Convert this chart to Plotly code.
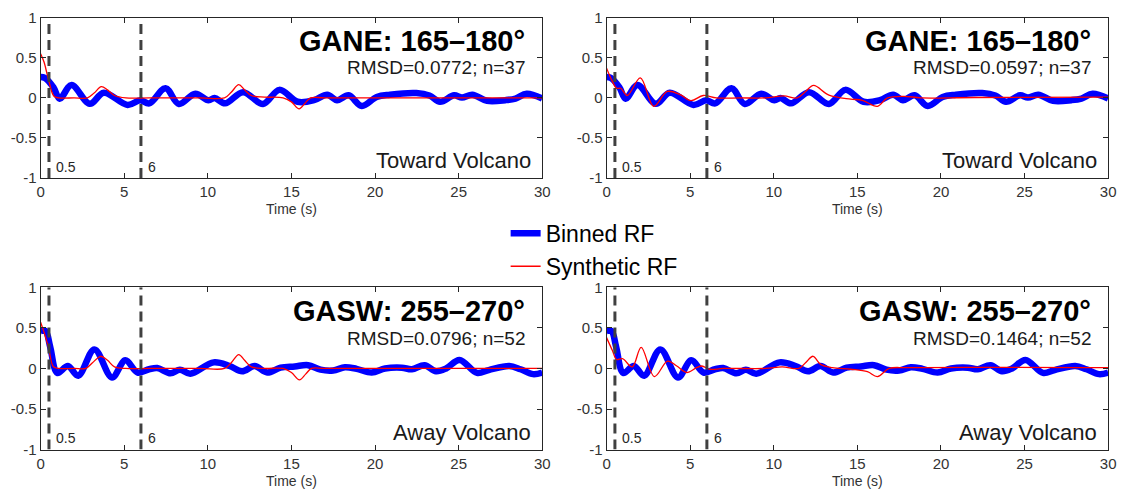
import plotly.graph_objects as go

# ---------------- data ----------------
x_ticks = [0, 5, 10, 15, 20, 25, 30]
y_ticks = [-1, -0.5, 0, 0.5, 1]
y_tick_text = ["-1", "-0.5", "0", "0.5", "1"]
marker_times = [0.5, 6]
marker_labels = ["0.5", "6"]

# Binned RF, GANE 165-180 (same in both columns)
t_bin_gane = [0, 0.25, 0.77, 1.14, 1.85, 2.94, 3.78, 5.2, 5.95, 6.5, 7.47, 8.27, 9.25, 10.04,
              10.4, 11.03, 12.11, 13.3, 14.28, 15.37, 16.35, 17.14, 17.73, 18.42, 19.21, 20.1,
              20.89, 22.47, 23.25, 23.89, 24.73, 25.2, 25.82, 26.7, 27.8, 28.4, 29.07, 30]
v_bin_gane = [0.26, 0.25, 0.13, -0.01, 0.16, -0.074, 0.064, -0.088, -0.03, -0.068, 0.12, -0.076,
              0.052, -0.03, 0.0, -0.068, 0.072, -0.076, 0.10, -0.048, -0.028, 0.04, -0.028, 0.032,
              -0.1, 0.012, 0.04, 0.06, 0.03, -0.048, 0.032, 0.004, 0.04, -0.036, -0.028, -0.008,
              0.052, -0.008]

# Synthetic RF, GANE, left column
t_syn_gane_l = [0, 0.2, 0.47, 0.8, 1.1, 2.0, 2.8, 3.2, 3.63, 4.0, 4.42, 5.1, 6.5, 9.5, 11.0,
                11.4, 11.85, 12.2, 12.6, 13.4, 14.5, 15.0, 15.46, 15.8, 16.15, 17.0, 23.0, 30]
v_syn_gane_l = [0.55, 0.45, 0.23, 0.02, 0.0, 0.0, 0.0, 0.06, 0.14, 0.1, 0.03, 0.0, 0.0, 0.0, 0.0,
                0.07, 0.165, 0.1, 0.03, 0.01, 0.0, -0.05, -0.137, -0.07, 0.0, 0.0, 0.0, 0.0]

# Synthetic RF, GANE, right column
t_syn_gane_r = [0, 0.36, 0.6, 0.85, 1.24, 2.02, 2.82, 3.63, 4.4, 5.05, 5.78, 6.57, 8.0, 9.5,
                10.6, 11.4, 11.9, 12.38, 13.3, 14.6, 15.3, 16.2, 16.8, 17.8, 18.8, 22.0, 30]
v_syn_gane_r = [0.37, 0.2, 0.12, 0.12, 0.03, 0.25, -0.105, 0.08, 0.04, -0.035, 0.03, 0.0, 0.0,
                0.0, 0.025, 0.0, 0.08, 0.155, 0.035, -0.015, -0.03, -0.105, 0.0, 0.02, 0.0,
                0.005, 0.01]

# Binned RF, GASW 255-270 (same in both columns)
t_bin_gasw = [0, 0.3, 0.57, 1.0, 1.63, 2.25, 3.22, 4.27, 5.07, 5.8, 6.49, 6.98, 7.77, 8.33,
              8.95, 10.35, 11.3, 12.05, 12.8, 13.55, 14.35, 15.2, 16.0, 16.74, 17.5, 18.2, 18.9,
              19.8, 20.6, 21.6, 22.2, 22.96, 23.65, 24.25, 25.05, 26.1, 26.8, 28.03, 28.7,
              29.45, 30]
v_bin_gasw = [0.46, 0.46, 0.27, -0.055, 0.03, -0.09, 0.235, -0.11, 0.1, -0.05, -0.01, 0.005,
              -0.06, -0.015, -0.065, 0.075, 0.03, -0.035, 0.03, -0.05, 0.01, 0.025, 0.04, -0.015,
              -0.025, 0.015, -0.005, -0.05, 0.0, 0.01, -0.01, 0.04, -0.035, 0.0, 0.105, -0.055,
              -0.02, 0.03, -0.01, -0.07, -0.05]

# Synthetic RF, GASW, left column
t_syn_gasw_l = [0, 0.2, 0.47, 0.77, 1.1, 2.0, 2.7, 3.1, 3.6, 4.0, 4.42, 5.1, 6.5, 9.5, 11.0,
                11.4, 11.85, 12.2, 12.6, 13.4, 14.5, 15.0, 15.48, 15.85, 16.2, 17.0, 23.0, 30]
v_syn_gasw_l = [0.57, 0.45, 0.26, 0.02, 0.0, 0.0, 0.0, 0.07, 0.15, 0.1, 0.02, 0.0, 0.0, 0.0, 0.0,
                0.07, 0.17, 0.1, 0.02, 0.0, 0.0, -0.05, -0.14, -0.07, 0.0, 0.0, 0.0, 0.0]

# Synthetic RF, GASW, right column
t_syn_gasw_r = [0, 0.35, 0.6, 0.95, 1.54, 2.07, 2.86, 3.65, 4.2, 4.79, 5.38, 5.7, 6.17, 7.0,
                9.5, 10.5, 11.5, 11.9, 12.35, 12.8, 13.5, 14.6, 15.6, 16.2, 16.9, 18.0, 30]
v_syn_gasw_r = [0.38, 0.22, 0.11, 0.12, 0.02, 0.26, -0.1, 0.09, 0.03, -0.05, 0.01, 0.03, -0.01,
                0.0, 0.0, 0.02, 0.0, 0.07, 0.15, 0.05, 0.01, -0.01, -0.04, -0.1, 0.0, 0.01, 0.01]

panel_titles = ["GANE: 165–180°", "GANE: 165–180°", "GASW: 255–270°", "GASW: 255–270°"]
panel_stats = ["RMSD=0.0772; n=37", "RMSD=0.0597; n=37", "RMSD=0.0796; n=52", "RMSD=0.1464; n=52"]
panel_dirs = ["Toward Volcano", "Toward Volcano", "Away Volcano", "Away Volcano"]

panels = [
    (t_bin_gane, v_bin_gane, t_syn_gane_l, v_syn_gane_l),
    (t_bin_gane, v_bin_gane, t_syn_gane_r, v_syn_gane_r),
    (t_bin_gasw, v_bin_gasw, t_syn_gasw_l, v_syn_gasw_l),
    (t_bin_gasw, v_bin_gasw, t_syn_gasw_r, v_syn_gasw_r),
]

# ---------------- layout geometry ----------------
W, H = 1134, 504
x_domains = [[37 / W, 544 / W], [609 / W, 1116 / W]]
y_domains = [[1 - 175 / H, 1 - 9 / H], [1 - 456 / H, 1 - 288 / H]]

FONT = "Liberation Sans, Arial, sans-serif"
AX_COL = "#262626"

fig = go.Figure()
layout_axes = {}
annotations = []
shapes = []

for i, (tb, vb, ts, vs) in enumerate(panels):
    row, col = divmod(i, 2)
    n = "" if i == 0 else str(i + 1)
    xa, ya = "x" + n, "y" + n
    fig.add_trace(go.Scatter(x=tb, y=vb, mode="lines", name="Binned RF",
                             line=dict(color="#0000ff", width=6.5, shape="spline", smoothing=1.0),
                             showlegend=(i == 0), legendrank=1, xaxis=xa, yaxis=ya,
                             hoverinfo="skip"))
    fig.add_trace(go.Scatter(x=ts, y=vs, mode="lines", name="Synthetic RF",
                             line=dict(color="#ff0000", width=1.3, shape="spline", smoothing=1.0),
                             showlegend=(i == 0), legendrank=2, xaxis=xa, yaxis=ya,
                             hoverinfo="skip"))
    common = dict(ticks="inside", ticklen=5, tickwidth=1, tickcolor=AX_COL, showline=True,
                  linecolor=AX_COL, linewidth=1, mirror="ticks", showgrid=False, zeroline=False,
                  tickfont=dict(family=FONT, size=15, color="#333333"), fixedrange=True)
    layout_axes["xaxis" + n] = dict(common, domain=x_domains[col], range=[0, 30], tickvals=x_ticks,
                                    anchor=ya,
                                    title=dict(text="Time (s)", standoff=5,
                                               font=dict(family=FONT, size=14, color="#333333")))
    layout_axes["yaxis" + n] = dict(common, domain=y_domains[row], range=[-1, 1], tickvals=y_ticks,
                                    ticktext=y_tick_text, anchor=xa)
    for tm, lab in zip(marker_times, marker_labels):
        shapes.append(dict(type="line", xref=xa, yref=ya, x0=tm, x1=tm, y0=-1, y1=1,
                           line=dict(color="#404040", width=3, dash="10px,6px")))
        annotations.append(dict(xref=xa, yref=ya, x=tm, y=-0.86, text=lab, showarrow=False,
                                xanchor="left", yanchor="middle", xshift=5,
                                font=dict(family=FONT, size=14, color=AX_COL)))
    annotations.append(dict(xref=xa + " domain", yref=ya + " domain", x=1 - 15 / 507, y=1 - 24 / 166,
                            text="<b>" + panel_titles[i] + "</b>", showarrow=False,
                            xanchor="right", yanchor="middle",
                            font=dict(family=FONT, size=29, color="#000000")))
    annotations.append(dict(xref=xa + " domain", yref=ya + " domain", x=1 - 14 / 507, y=1 - 52 / 166,
                            text=panel_stats[i], showarrow=False, xanchor="right", yanchor="middle",
                            font=dict(family=FONT, size=19, color="#1a1a1a")))
    annotations.append(dict(xref=xa + " domain", yref=ya + " domain", x=1 - 9 / 507, y=18 / 166,
                            text=panel_dirs[i], showarrow=False, xanchor="right", yanchor="middle",
                            font=dict(family=FONT, size=22, color="#1a1a1a")))

fig.update_layout(
    width=W, height=H,
    margin=dict(l=0, r=0, t=0, b=0),
    paper_bgcolor="white", plot_bgcolor="white",
    font=dict(family=FONT, color=AX_COL),
    showlegend=True,
    legend=dict(x=507 / W, y=1 - 210 / H, xanchor="left", yanchor="top",
                bgcolor="rgba(0,0,0,0)", borderwidth=0, itemwidth=30,
                font=dict(family=FONT, size=23, color="#000000"), tracegroupgap=0),
    annotations=annotations,
    shapes=shapes,
    **layout_axes,
)

fig.write_html("out.html")
